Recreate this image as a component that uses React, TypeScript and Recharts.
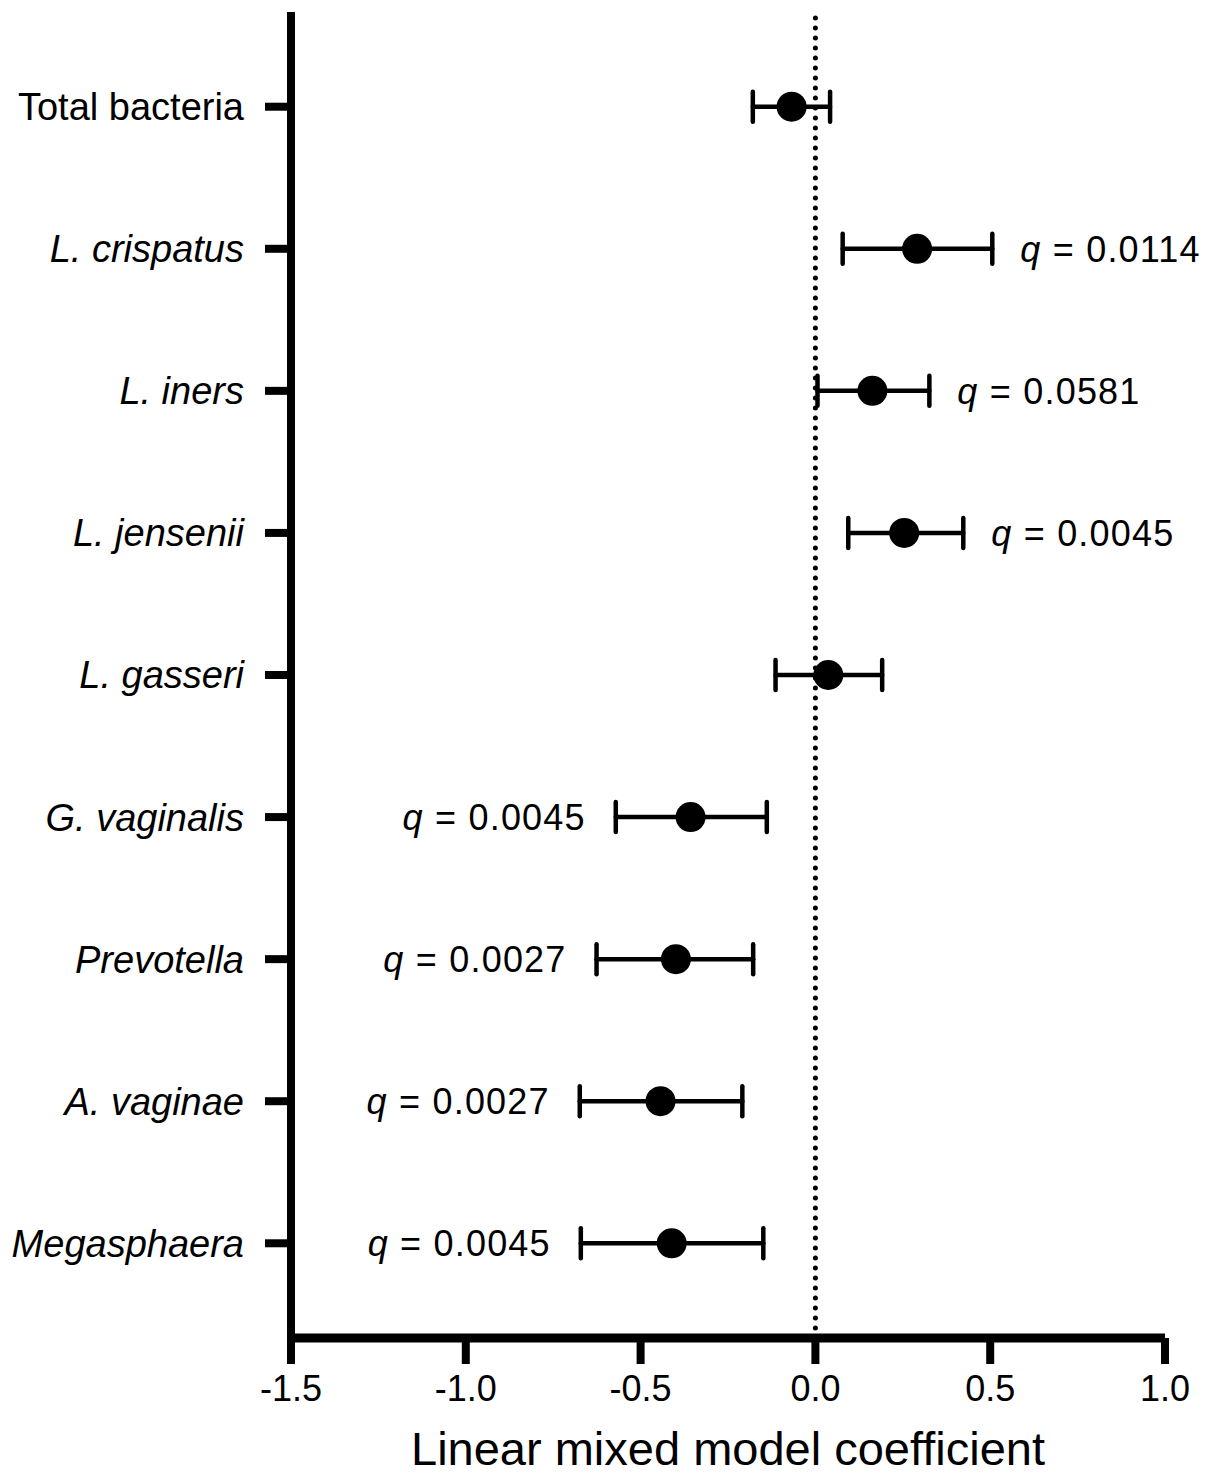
import React from 'react';
import { ScatterChart, Scatter, XAxis, YAxis, ErrorBar, ReferenceLine } from 'recharts';

const categories = [
  'Total bacteria',
  'L. crispatus',
  'L. iners',
  'L. jensenii',
  'L. gasseri',
  'G. vaginalis',
  'Prevotella',
  'A. vaginae',
  'Megasphaera',
];
const coefficients = [-0.068, 0.291, 0.163, 0.254, 0.037, -0.357, -0.399, -0.443, -0.411];
const ciLower = [-0.179, 0.078, 0.006, 0.094, -0.114, -0.571, -0.626, -0.674, -0.671];
const ciUpper = [0.042, 0.506, 0.326, 0.423, 0.191, -0.139, -0.178, -0.209, -0.149];
const qValues: (string | null)[] = [null, '0.0114', '0.0581', '0.0045', null, '0.0045', '0.0027', '0.0027', '0.0045'];
const qSide: (string | null)[] = [null, 'right', 'right', 'right', null, 'left', 'left', 'left', 'left'];
const xTicks = [-1.5, -1.0, -0.5, 0.0, 0.5, 1.0];
const xDomain = [-1.5, 1.0];
const xTitle = 'Linear mixed model coefficient';

const FONT = '"Liberation Sans", Arial, Helvetica, sans-serif';

const pointData = categories.map((name, i) => ({
  name,
  row: i + 1,
  coef: coefficients[i],
  err: [coefficients[i] - ciLower[i], ciUpper[i] - coefficients[i]],
}));

const qData = categories
  .map((name, i) => ({
    name,
    row: i + 1,
    coef: qSide[i] === 'right' ? ciUpper[i] : ciLower[i],
    q: qValues[i],
    side: qSide[i],
  }))
  .filter((d) => d.q !== null);

const YTick = (props: any) => {
  const { x, y, payload } = props;
  const name = categories[payload.value - 1];
  if (!name) return null;
  return (
    <text
      x={x}
      y={y}
      dy="0.355em"
      textAnchor="end"
      fontSize={38}
      fontFamily={FONT}
      fontStyle={name === 'Total bacteria' ? 'normal' : 'italic'}
      fill="#000"
    >
      {name}
    </text>
  );
};

const Dot = (props: any) => {
  const { cx, cy } = props;
  if (cx == null || cy == null) return null;
  return <circle cx={cx} cy={cy} r={15} fill="#000" />;
};

const QLabel = (props: any) => {
  const { cx, cy, payload } = props;
  if (cx == null || cy == null) return null;
  const right = payload.side === 'right';
  return (
    <text
      x={right ? cx + 28 : cx - 30}
      y={cy}
      dy="0.355em"
      textAnchor={right ? 'start' : 'end'}
      fontSize={36}
      letterSpacing={1.2}
      fontFamily={FONT}
      fill="#000"
    >
      <tspan fontStyle="italic">q</tspan>
      <tspan> = {payload.q}</tspan>
    </text>
  );
};

const TitleLabel = (props: any) => {
  const vb = props.viewBox || {};
  const cx = (vb.x || 0) + (vb.width || 0) / 2;
  const base = (vb.y || 0) + 127;
  return (
    <text x={cx} y={base} textAnchor="middle" fontSize={47} fontFamily={FONT} fill="#000">
      {xTitle}
    </text>
  );
};

export default function App() {
  return (
    <div style={{ width: 1200, height: 1470, fontFamily: FONT }}>
      <ScatterChart width={1200} height={1470} margin={{ top: 4, right: 43, bottom: 0, left: 0 }}>
        <XAxis
          type="number"
          dataKey="coef"
          domain={xDomain}
          ticks={xTicks}
          height={140}
          tickSize={26}
          tickMargin={11}
          tickFormatter={(v: number) => v.toFixed(1)}
          axisLine={{ stroke: '#000', strokeWidth: 9 }}
          tickLine={{ stroke: '#000', strokeWidth: 8 }}
          tick={{ fill: '#000', fontSize: 36, fontFamily: FONT }}
          label={<TitleLabel />}
        />
        <YAxis
          type="number"
          dataKey="row"
          domain={[1 / 3, 29 / 3]}
          ticks={[1, 2, 3, 4, 5, 6, 7, 8, 9]}
          reversed
          width={283}
          tickSize={26}
          tickMargin={21}
          axisLine={{ stroke: '#000', strokeWidth: 8 }}
          tickLine={{ stroke: '#000', strokeWidth: 8 }}
          tick={<YTick />}
          interval={0}
        />
        <ReferenceLine
          x={0}
          stroke="#000"
          strokeWidth={5}
          strokeDasharray="0 10"
          strokeLinecap="round"
        />
        <Scatter data={pointData} shape={<Dot />} isAnimationActive={false}>
          <ErrorBar
            dataKey="err"
            direction="x"
            width={15}
            stroke="#000"
            strokeWidth={4.5}
            strokeLinecap="round"
            isAnimationActive={false}
          />
        </Scatter>
        <Scatter data={qData} shape={<QLabel />} isAnimationActive={false} />
      </ScatterChart>
    </div>
  );
}
